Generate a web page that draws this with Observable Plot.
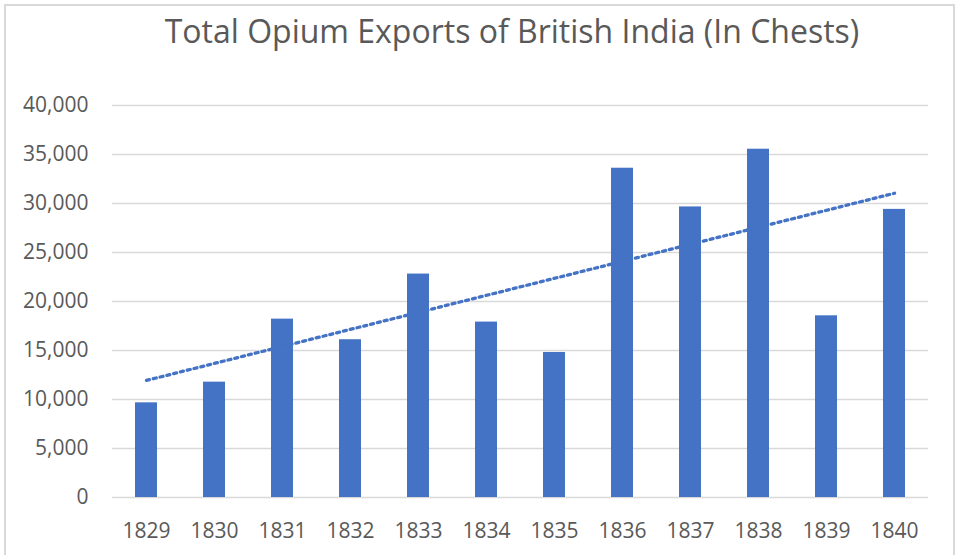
<!DOCTYPE html>
<html>
<head>
<meta charset="utf-8">
<script src="https://cdn.jsdelivr.net/npm/d3@7"></script>
<script src="https://cdn.jsdelivr.net/npm/@observablehq/plot@0.6"></script>
<style>
  html, body { margin: 0; padding: 0; background: #fff; overflow: hidden; }
  #wrap { position: relative; width: 959px; height: 555px; overflow: hidden; font-family: "Open Sans", sans-serif; }
  #frame { position: absolute; left: 4px; top: 4px; width: 951px; height: 580px; border: 2px solid #d9d9d9; box-sizing: border-box; }
  #title { position: absolute; left: 72px; width: 880px; top: 15px; text-align: center; font-size: 32px; line-height: 32px; color: #595959; white-space: nowrap; }
  #chart { position: absolute; left: 0; top: 60px; }
</style>
</head>
<body>
<div id="wrap">
  <div id="frame"></div>
  <div id="title">Total Opium Exports of British India (In Chests)</div>
  <div id="chart"></div>
</div>
<script>
const years = ["1829","1830","1831","1832","1833","1834","1835","1836","1837","1838","1839","1840"];
const chests = [9660, 11770, 18200, 16100, 22800, 17900, 14800, 33600, 29650, 35540, 18540, 29400];
const yTicks = [0, 5000, 10000, 15000, 20000, 25000, 30000, 35000, 40000];

const data = years.map((year, i) => ({year, chests: chests[i]}));

// Linear trendline (least squares over category index), as in the spreadsheet chart
const n = chests.length;
const xs = d3.range(n);
const mx = d3.mean(xs), my = d3.mean(chests);
const slope = d3.sum(xs, (x, i) => (x - mx) * (chests[i] - my)) / d3.sum(xs, x => (x - mx) ** 2);
const intercept = my - slope * mx;
const trend = [
  {year: years[0], value: intercept},
  {year: years[n - 1], value: intercept + slope * (n - 1)}
];

const chart = Plot.plot({
  width: 959,
  height: 495,
  marginTop: 45,
  marginBottom: 58,
  marginLeft: 112,
  marginRight: 31,
  style: {fontFamily: "Open Sans, sans-serif", fontSize: "21px", color: "#595959", background: "transparent"},
  x: {type: "band", domain: years, paddingInner: 0.68, paddingOuter: 0.34, align: 0.5, label: null, tickSize: 0, tickPadding: 26},
  y: {domain: [0, 40000], ticks: yTicks, tickFormat: d3.format(","), label: null, tickSize: 0, tickPadding: 24},
  marks: [
    Plot.ruleY(yTicks, {stroke: "#d9d9d9", strokeWidth: 1.5}),
    Plot.barY(data, {x: "year", y: "chests", fill: "#4472C4"}),
    Plot.line(trend, {x: "year", y: "value", stroke: "#4472C4", strokeWidth: 3.3, strokeDasharray: "3,4", strokeLinecap: "round"})
  ]
});
document.getElementById("chart").appendChild(chart);
</script>
</body>
</html>
